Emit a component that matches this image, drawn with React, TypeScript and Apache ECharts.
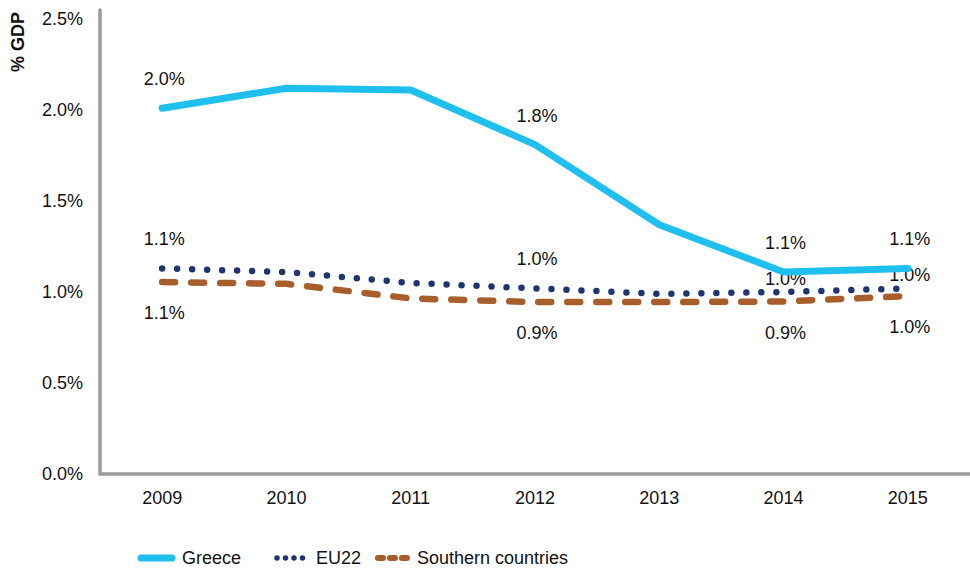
import React, { useEffect, useRef } from "react";
import * as echarts from "echarts";

// Public expenditure on the topic, share of GDP
const years = ["2009", "2010", "2011", "2012", "2013", "2014", "2015"];
const greece = [2.01, 2.12, 2.11, 1.81, 1.37, 1.11, 1.13];
const eu22 = [1.13, 1.11, 1.05, 1.02, 0.99, 1.0, 1.02];
const southern = [1.055, 1.045, 0.965, 0.945, 0.945, 0.948, 0.978];
const yTicks = [0, 0.5, 1, 1.5, 2, 2.5];

// Which points carry a value label
const labelledIdx = [0, 3, 5, 6];

const FONT = "'Liberation Sans', Arial, Helvetica, sans-serif";
const C_GREECE = "#1fbfee";
const C_EU = "#1f3571";
const C_SOUTH = "#a75e2a";
const C_AXIS = "#9b9b9d";

const fmt = (v: number) => v.toFixed(1) + "%";

function withLabels(values: number[], position: "top" | "bottom", distances: number[]) {
  return values.map((v, i) => {
    const k = labelledIdx.indexOf(i);
    if (k < 0) return { value: v, label: { show: false } };
    return {
      value: v,
      label: {
        show: true,
        position,
        distance: distances[k],
        formatter: () => fmt(v),
        color: "#111",
        fontSize: 18,
        fontFamily: FONT,
        offset: [2, 0],
      },
    };
  });
}

export default function App() {
  const ref = useRef<HTMLDivElement>(null);

  useEffect(() => {
    if (!ref.current) return;
    const chart = echarts.init(ref.current, undefined, { renderer: "svg" });

    const legendY = 558;
    const lineSeries = {
      type: "line",
      symbol: "circle",
      symbolSize: 0,
      showSymbol: true,
      showAllSymbol: true,
      emphasis: { disabled: true },
    };
    chart.setOption({
      animation: false,
      backgroundColor: "#ffffff",
      textStyle: { fontFamily: FONT },
      grid: { left: 100, right: -3, top: 10, bottom: 95, containLabel: false },
      xAxis: {
        type: "category",
        data: years,
        boundaryGap: true,
        axisLine: { show: true, lineStyle: { color: C_AXIS, width: 3.5 } },
        axisTick: { show: false },
        axisLabel: { color: "#111", fontSize: 18, fontFamily: FONT, margin: 15 },
        splitLine: { show: false },
      },
      yAxis: {
        type: "value",
        min: 0,
        max: 2.55,
        interval: 0.5,
        axisLine: { show: true, lineStyle: { color: C_AXIS, width: 3.5 } },
        axisTick: { show: false },
        splitLine: { show: false },
        axisLabel: {
          color: "#111",
          fontSize: 18,
          fontFamily: FONT,
          margin: 17,
          formatter: (v: number) =>
            yTicks.some((t) => Math.abs(t - v) < 1e-6) ? fmt(v) : "",
        },
      },
      series: [
        {
          ...lineSeries,
          name: "Greece",
          data: withLabels(greece, "top", [20, 20, 20, 20]),
          itemStyle: { color: C_GREECE },
          lineStyle: { color: C_GREECE, width: 7, cap: "round", join: "round" },
          z: 3,
        },
        {
          ...lineSeries,
          name: "EU22",
          data: withLabels(eu22, "top", [20, 20, 4, 4]),
          itemStyle: { color: C_EU },
          lineStyle: { color: C_EU, width: 6.5, type: [0, 15], cap: "round", join: "round" },
          z: 2,
        },
        {
          ...lineSeries,
          name: "Southern countries",
          data: withLabels(southern, "bottom", [22, 22, 22, 22]),
          itemStyle: { color: C_SOUTH },
          lineStyle: { color: C_SOUTH, width: 6.5, type: [13, 16], cap: "round", join: "round" },
          z: 1,
        },
      ],
      graphic: [
        {
          type: "text",
          x: 18,
          y: 42,
          rotation: Math.PI / 2,
          style: {
            text: "% GDP",
            font: `bold 18px ${FONT}`,
            fill: "#111",
            align: "center",
            verticalAlign: "middle",
          },
        },
        // legend
        {
          type: "line",
          shape: { x1: 141, y1: legendY, x2: 172, y2: legendY },
          style: { stroke: C_GREECE, lineWidth: 7, lineCap: "round" },
        },
        {
          type: "text",
          x: 182,
          y: legendY,
          style: { text: "Greece", font: `18px ${FONT}`, fill: "#111", verticalAlign: "middle" },
        },
        {
          type: "line",
          shape: { x1: 277, y1: legendY, x2: 303, y2: legendY },
          style: { stroke: C_EU, lineWidth: 5.5, lineCap: "round", lineDash: [0, 8.5] },
        },
        {
          type: "text",
          x: 316,
          y: legendY,
          style: { text: "EU22", font: `18px ${FONT}`, fill: "#111", verticalAlign: "middle" },
        },
        {
          type: "line",
          shape: { x1: 378, y1: legendY, x2: 408, y2: legendY },
          style: { stroke: C_SOUTH, lineWidth: 6, lineCap: "round", lineDash: [5, 7] },
        },
        {
          type: "text",
          x: 417,
          y: legendY,
          style: {
            text: "Southern countries",
            font: `18px ${FONT}`,
            fill: "#111",
            verticalAlign: "middle",
          },
        },
      ],
    });

    return () => chart.dispose();
  }, []);

  return (
    <div
      ref={ref}
      style={{ position: "absolute", left: 0, top: 0, width: 970, height: 569 }}
    />
  );
}
